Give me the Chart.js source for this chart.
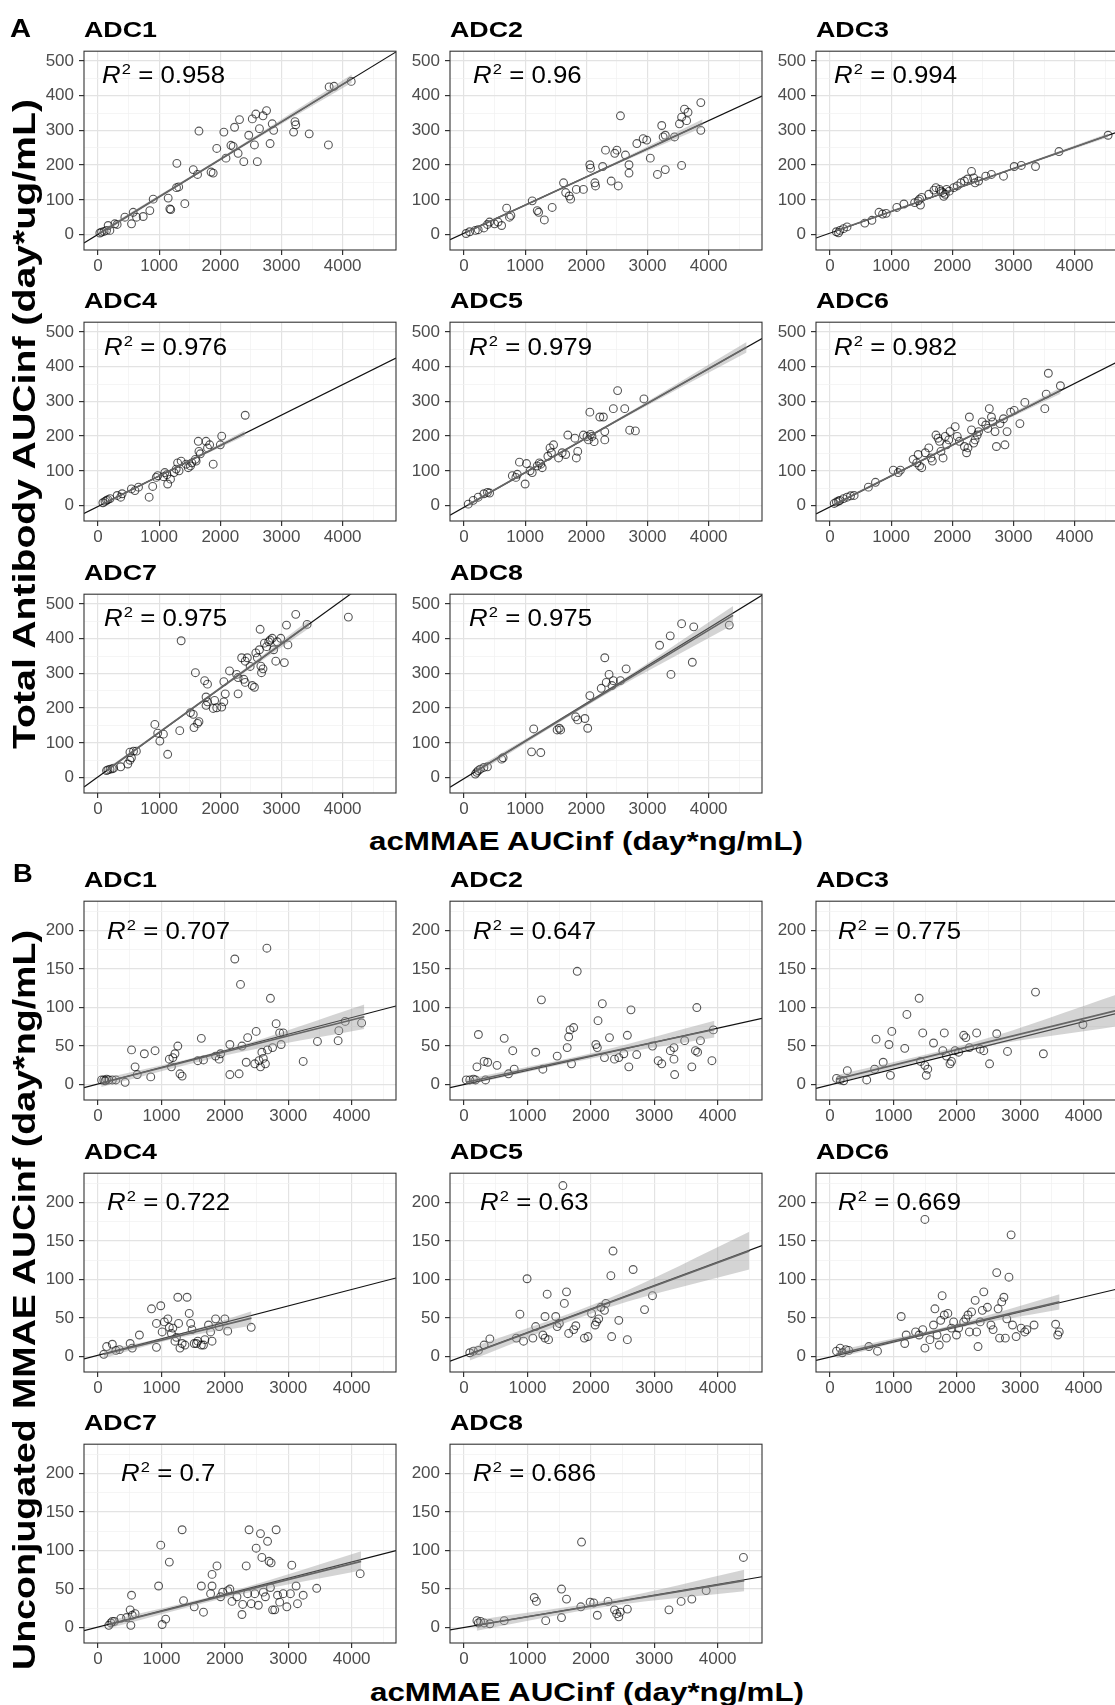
<!DOCTYPE html>
<html>
<head>
<meta charset="utf-8">
<script src="https://cdn.jsdelivr.net/npm/chart.js@4.4.1/dist/chart.umd.min.js"></script>
<style>
  html, body { margin:0; padding:0; background:#fff; }
  body { position:relative; width:1115px; height:1705px; overflow:hidden; }
  .box { position:absolute; }
  .txt { position:absolute; white-space:nowrap; line-height:1; color:#000;
         font-family:"Liberation Sans", Arial, sans-serif; left:0; top:0; }
  .txt sup { font-size:0.64em; vertical-align:baseline; position:relative; top:-0.58em; margin-left:1px; }
</style>
</head>
<body>
<script>
// ---------- data ----------
const panels = ['ADC1','ADC2','ADC3','ADC4','ADC5','ADC6','ADC7','ADC8'];
const r2A = ['0.958','0.96','0.994','0.976','0.979','0.982','0.975','0.975'];
const r2B = ['0.707','0.647','0.775','0.722','0.63','0.669','0.7','0.686'];

const xTicks = [0,500,1000,1500,2000,2500,3000,3500,4000,4500];
const xMajor = [0,1000,2000,3000,4000];
const yTicksA = [0,50,100,150,200,250,300,350,400,450,500];
const yMajorA = [0,100,200,300,400,500];
const yTicksB = [0,25,50,75,100,125,150,175,200,225];
const yMajorB = [0,50,100,150,200];

const xRangeA = [-228, 4872];
const yRangeA = [-44.5, 528];
const xRangeB = [-222, 4700];
const yRangeB = [-20, 238];

// panel A: acMMAE AUCinf (x) vs total antibody AUCinf (y)
const xA1 = [31,59,100,140,167,195,276,314,440,549,576,631,740,848,903,1148,1175,1190,1284,1320,1420,1558,1628,1651,1849,1884,1942,2058,2093,2174,2210,2233,2291,2314,2384,2465,2523,2558,2581,2605,2640,2698,2756,2814,2849,2872,3198,3221,3233,3453,3767,3779,3860,4140,1290];
const yA1 = [4.5,7,9,12,26,12,31,29,50,31,64,50,52,69,102,105,74,72,135,137,89,187,173,298,180,177,248,295,220,257,254,309,234,331,210,286,333,258,347,210,305,342,357,262,319,300,295,325,316,290,258,425,427,441,205];
const xA2 = [35,93,186,233,326,384,419,500,558,616,698,767,744,1116,1198,1221,1314,1442,1628,1663,1721,1744,1837,1953,2058,2070,2151,2140,2267,2314,2407,2465,2500,2523,2558,2640,2698,2698,2826,2930,2988,3046,3163,3233,3256,3291,3291,3442,3523,3558,3605,3640,3663,3558,3872,3872];
const yA2 = [3,8,12,14,19,29,36,31,36,26,76,55,50,97,69,64,42,78,149,121,111,102,130,130,201,191,140,149,196,243,154,234,243,140,342,229,201,177,262,276,272,220,173,314,281,286,187,281,319,338,361,328,352,199,380,300];
const xA3 = [105,140,163,221,279,570,686,802,860,919,1093,1209,1384,1442,1465,1500,1616,1733,1791,1814,1849,1884,1907,2023,2081,2140,2198,2314,2349,2372,2430,2547,2640,2837,3012,3128,3360,3744,4547,1860,1950,1700,1480,2250];
const yA3 = [8,5,12,17,22,33,41,64,59,61,78,88,92,97,102,107,116,135,130,125,121,116,130,135,140,149,154,182,163,149,154,168,173,168,196,199,196,239,286,110,125,128,85,160];
const xA4 = [81,116,140,163,198,314,372,395,547,663,605,837,895,953,977,1070,1128,1093,1140,1186,1244,1279,1302,1360,1326,1442,1477,1512,1535,1593,1605,1651,1674,1640,1767,1826,1791,1884,2000,2023,2407];
const yA4 = [8,12,15,17,20,29,24,34,48,53,43,24,55,81,86,83,89,95,62,76,95,105,123,128,100,119,109,114,123,133,128,156,149,185,185,175,166,119,175,200,260];
const xA5 = [70,151,233,326,384,419,791,849,872,907,1023,1000,1081,1116,1198,1256,1279,1233,1372,1430,1465,1407,1547,1605,1663,1698,1837,1860,1814,1953,2012,2035,2070,2058,2128,2093,2221,2279,2302,2302,2442,2512,2628,2709,2802,2942];
const yA5 = [4,15,24,34,38,36,86,81,90,125,121,62,100,95,114,119,109,123,142,152,175,166,137,152,147,203,137,156,194,203,199,189,205,269,184,199,255,255,189,213,279,331,279,217,215,307];
const xA6 = [70,105,140,163,221,279,337,395,628,744,1035,1116,1151,1360,1419,1442,1465,1500,1558,1616,1651,1674,1733,1767,1791,1814,1849,1884,1907,1942,1965,2047,2081,2116,2198,2233,2256,2279,2314,2349,2372,2407,2430,2488,2547,2581,2605,2640,2663,2698,2721,2779,2837,2860,2895,2953,3012,3105,3186,3512,3535,3570,3767];
const yA6 = [6,10,13,15,20,24,28,29,53,67,102,95,102,133,123,147,114,109,152,166,137,128,203,194,185,156,137,199,175,189,213,227,199,185,170,152,166,255,218,180,189,203,213,241,232,222,279,255,241,213,170,236,250,175,213,269,274,236,297,279,321,381,345];
const xA7 = [140,163,198,233,256,372,488,523,547,523,581,628,930,977,1012,1070,1140,1337,1360,1512,1558,1570,1628,1651,1593,1744,1791,1767,1791,1767,1884,1907,1942,2023,2058,2081,2058,2151,2267,2291,2291,2349,2407,2442,2384,2407,2488,2523,2558,2581,2605,2640,2663,2674,2651,2698,2721,2756,2791,2814,2849,2872,2907,2930,2988,3047,3082,3105,3233,3419,4093];
const yA7 = [20,22,24,25,27,31,39,50,57,73,76,76,153,128,105,125,67,135,394,187,182,144,156,161,302,279,269,232,218,208,199,222,201,203,218,241,276,307,297,288,241,345,335,345,283,274,320,265,260,359,345,368,321,302,427,313,387,377,391,396,401,368,335,391,401,331,439,382,470,441,462];
const xA8 = [186,209,233,267,326,384,616,640,1105,1140,1256,1523,1558,1581,1826,1860,1977,2023,2058,2244,2302,2326,2372,2419,2442,2558,2651,3198,3372,3384,3558,3756,3733,4337];
const yA8 = [10,15,20,24,29,31,53,57,74,140,72,137,142,137,175,166,170,142,236,257,345,274,297,265,279,279,313,381,408,297,443,434,332,439];

// panel B: acMMAE AUCinf (x) vs unconjugated MMAE AUCinf (y)
const xB1 = [56,90,112,135,169,225,281,427,528,584,618,730,831,899,1124,1157,1180,1213,1258,1292,1326,1573,1629,1663,1854,1910,1933,2079,2079,2157,2225,2247,2270,2337,2360,2494,2472,2539,2584,2607,2640,2674,2562,2663,2719,2753,2809,2865,2921,2888,3236,3461,3787,3798,3899,4157];
const yB1 = [6,6,5,7,6,6,6,3,45,23,13,40,10,44,33,23,35,40,50,14,11,31,60,32,37,33,40,13,52,163,14,130,50,29,61,69,27,31,42,34,27,45,23,177,112,48,79,67,67,52,30,56,57,70,82,80];
const xB2 = [34,90,147,181,339,203,226,316,373,520,633,701,768,791,1130,1220,1243,1469,1627,1650,1672,1729,1695,1785,2079,2102,2113,2181,2215,2294,2373,2441,2520,2576,2599,2633,2723,2972,3062,3119,3254,3311,3311,3322,3480,3593,3650,3684,3729,3672,3910,3932];
const yB2 = [6,6,7,6,6,23,65,30,29,25,60,14,44,20,42,110,20,37,48,62,71,74,27,147,52,48,83,105,35,61,33,35,40,64,23,97,39,50,31,27,44,48,33,13,57,23,44,42,57,100,31,71];
const xB3 = [102,159,215,272,578,703,725,838,929,952,974,1178,1212,1405,1428,1462,1496,1518,1541,1632,1802,1779,1835,1892,1915,1972,2028,2108,2142,2198,2312,2368,2425,2516,2629,2799,3241,3365,3989];
const yB3 = [8,6,5,18,6,20,59,29,52,12,69,47,91,112,30,67,25,12,20,54,67,44,37,27,30,44,42,64,61,48,67,46,44,27,66,43,120,40,78];
const xB4 = [90,135,225,281,337,506,539,652,843,989,921,921,1011,1045,1101,1124,1157,1180,1213,1236,1258,1270,1292,1326,1371,1404,1438,1461,1483,1517,1551,1573,1629,1663,1685,1742,1775,1798,1854,1910,2000,2045,2416];
const yB4 = [3,13,16,8,9,17,11,28,62,66,43,12,32,45,49,38,30,37,20,25,77,43,11,17,15,77,56,43,35,17,17,20,15,15,22,41,32,20,49,39,49,33,38];
const xB5 = [90,147,226,316,407,825,881,938,994,1085,1130,1243,1277,1311,1333,1277,1446,1469,1503,1559,1582,1616,1650,1729,1763,1898,1955,2011,2068,2090,2124,2158,2215,2237,2316,2328,2350,2441,2576,2667,2847,2972];
const yB5 = [5,7,8,15,23,24,55,20,101,24,39,28,52,81,22,24,52,39,43,222,69,84,30,35,40,24,26,56,41,45,49,64,60,69,105,26,137,47,22,113,61,79];
const xB6 = [102,159,193,249,294,612,748,1122,1178,1201,1349,1405,1462,1496,1496,1575,1632,1654,1688,1722,1745,1768,1802,1835,1858,1915,1949,1994,2028,2108,2142,2176,2198,2232,2289,2312,2334,2368,2402,2425,2482,2538,2572,2629,2651,2674,2708,2742,2765,2788,2822,2856,2878,2935,3014,3071,3105,3218,3558,3615,3592];
const yB6 = [7,11,5,9,8,13,7,52,17,28,32,28,35,11,178,22,41,62,28,15,47,79,54,24,56,37,45,28,37,45,49,54,32,58,73,32,13,45,60,84,64,41,35,109,62,24,71,77,24,49,103,158,41,26,37,32,35,41,42,32,28];
const xB7 = [169,202,225,258,360,449,506,528,517,539,584,955,989,1011,1067,1124,1326,1348,1517,1629,1663,1775,1798,1798,1876,1933,1966,2045,2079,2112,2191,2270,2281,2337,2360,2382,2416,2472,2494,2528,2562,2584,2607,2640,2674,2697,2719,2730,2753,2787,2809,2831,2865,2921,2978,3034,3056,3124,3146,3236,3449,4135];
const yB7 = [3,6,8,8,12,13,23,42,3,16,18,54,107,4,11,85,127,35,27,54,20,44,54,69,80,40,46,48,50,34,40,17,30,80,44,127,31,44,103,29,122,91,46,40,112,86,52,84,23,23,127,42,33,44,27,44,81,54,31,42,51,70];
const xB8 = [203,226,260,316,407,633,1107,1141,1288,1537,1537,1616,1842,1853,1989,2045,2102,2271,2373,2407,2441,2463,2576,3232,3424,3593,3819,4407];
const yB8 = [9,6,8,6,5,9,39,34,9,50,13,37,27,111,33,32,16,34,23,18,14,20,24,23,34,37,48,91];

// black regression line, y at the left / right x limits
const blackA = [[-24,526],[-15,399],[-10,306],[-23,425],[-28,481],[-24,429],[-27,623],[-28,525]];
const blackB = [[-4,102],[-4,86],[-5,96],[-3,102],[-6,144],[-5,91],[-4,100],[-3,66]];

// grey smooth line (x span and y at its ends)
const fitXA = [[20,4150],[30,3900],[100,4550],[80,2400],[70,4620],[70,3770],[140,3450],[180,4400]];
const fitYA = [[3,449],[6,320],[11,286],[4.5,208],[2,456],[3,331],[20.5,442],[16.5,467]];
const fitXB = [[50,4200],[30,3950],[100,4560],[90,2420],[90,4500],[100,3620],[170,4150],[200,4420]];
const fitYB = [[2,88],[3,71.5],[7,97],[3,50],[3,137],[3,71],[4,86],[3,61]];

// confidence band: x at start / middle / end, lower and upper edges
const bandXA = [[20,2085,4150],[30,1965,3900],[100,2325,4550],[80,1240,2400],[70,2345,4620],[70,1920,3770],[140,1795,3450],[180,2290,4400]];
const bandLoA = [[-3,222,437],[3,161,308],[9,147,280],[1.5,104,200],[-1,226,441],[0,165,322],[16,228,430],[8,236,440]];
const bandHiA = [[9,230,461],[9,165,332],[13,150,292],[7.5,108,216],[5,232,471],[6,169,340],[25,234,454],[25,248,494]];
const bandXB = [[50,2125,4200],[30,1990,3950],[100,2330,4560],[90,1255,2420],[90,2295,4500],[100,1860,3620],[170,2160,4150],[200,2310,4420]];
const bandLoB = [[-3,40,72],[-1,33.5,61],[2,47.5,76],[-2,24,40],[-5,64,113],[-2,34.5,61],[-1,41.5,74],[-4,28,47]];
const bandHiB = [[7,48,104],[7,40.5,83],[12,56.5,118],[8,29,59],[11,76,162],[8,39.5,81],[9,48.5,99],[10,36,75]];

// ---------- layout ----------
const colLeft = [84, 450, 816];
const rowTopA = [48, 319, 591];
const rowTopB = [898, 1170, 1441];
const plotW = 312, plotH = 202;
const padL = 62, padT = 12, padR = 10, padB = 32;
const r2OffA = [[18,35],[23,35],[18,35],[20,36],[19,36],[18,36],[20,35],[19,35]];
const r2OffB = [[23,41],[23,41],[22,41],[23,40],[30,40],[22,40],[37,40],[23,40]];

const xsA = [xA1,xA2,xA3,xA4,xA5,xA6,xA7,xA8], ysA = [yA1,yA2,yA3,yA4,yA5,yA6,yA7,yA8];
const xsB = [xB1,xB2,xB3,xB4,xB5,xB6,xB7,xB8], ysB = [yB1,yB2,yB3,yB4,yB5,yB6,yB7,yB8];

const frame = {
  id: 'frame',
  afterDatasetsDraw(ch) {
    const a = ch.chartArea, c = ch.ctx;
    c.save();
    c.strokeStyle = '#333';
    c.lineWidth = 1.1;
    c.strokeRect(a.left, a.top, a.right - a.left, a.bottom - a.top);
    c.restore();
  }
};

function pts(xs, ys) { return xs.map((x, i) => ({x: x, y: ys[i]})); }

function gridAxis(ticks, major, range, isX) {
  return {
    type: 'linear', min: range[0], max: range[1],
    afterBuildTicks: s => { s.ticks = ticks.map(v => ({value: v})); },
    afterFit: s => { if (isX) s.height = padB; else s.width = padL; },
    ticks: {
      autoSkip: false, maxRotation: 0, minRotation: 0,
      padding: isX ? 1 : 5,
      color: '#4d4d4d',
      font: {family: 'Liberation Sans', size: 17},
      callback: v => major.includes(v) ? String(v) : ''
    },
    grid: {
      color: c => major.includes(c.tick.value) ? '#e3e3e3' : '#f1f1f1',
      lineWidth: c => major.includes(c.tick.value) ? 1.2 : 0.7,
      tickLength: 5,
      tickColor: c => major.includes(c.tick.value) ? '#333' : 'rgba(0,0,0,0)'
    },
    border: {display: false}
  };
}

function makePanel(left, top, xs, ys, black, fx, fy, bx, blo, bhi, xr, yr, yTicks, yMajor) {
  const box = document.createElement('div');
  box.className = 'box';
  box.style.left = (left - padL) + 'px';
  box.style.top = (top - padT) + 'px';
  box.style.width = (padL + plotW + padR) + 'px';
  box.style.height = (padT + plotH + padB) + 'px';
  const cv = document.createElement('canvas');
  box.appendChild(cv);
  document.body.appendChild(box);

  new Chart(cv, {
    type: 'scatter',
    data: {
      datasets: [
        {type: 'line', data: pts(fx, fy), borderColor: '#666', borderWidth: 1.7, pointRadius: 0, fill: false},
        {type: 'line', data: pts(bx, bhi), borderWidth: 0, pointRadius: 0, fill: '+1',
         backgroundColor: 'rgba(153,153,153,0.42)', cubicInterpolationMode: 'monotone'},
        {type: 'line', data: pts(bx, blo), borderWidth: 0, pointRadius: 0, fill: false,
         cubicInterpolationMode: 'monotone'},
        {type: 'line', data: pts(xr, black), borderColor: '#111', borderWidth: 1.2, pointRadius: 0, fill: false},
        {type: 'scatter', data: pts(xs, ys), pointRadius: 3.9, pointBorderWidth: 1.1,
         pointBorderColor: 'rgba(0,0,0,0.66)', pointBackgroundColor: 'rgba(0,0,0,0)'}
      ]
    },
    options: {
      responsive: true, maintainAspectRatio: false, animation: false,
      layout: {padding: {top: padT, right: padR, left: 0, bottom: 0}},
      plugins: {legend: {display: false}, tooltip: {enabled: false}},
      scales: {
        x: gridAxis(xTicks, xMajor, xr, true),
        y: gridAxis(yTicks, yMajor, yr, false)
      }
    },
    plugins: [frame]
  });
}

// ---------- text (DOM) ----------
function addText(html, size, bold) {
  const el = document.createElement('div');
  el.className = 'txt';
  el.innerHTML = html;
  el.style.fontSize = size + 'px';
  el.style.fontWeight = bold ? 'bold' : 'normal';
  document.body.appendChild(el);
  return el;
}
function placeLeft(el, x, base, size, s) {
  el.style.transformOrigin = '0 0';
  el.style.transform = 'scaleX(' + s + ')';
  el.style.left = x + 'px';
  el.style.top = (base - 0.8465 * size) + 'px';
}
function placeCenter(el, cx, base, size, target) {
  const w = el.getBoundingClientRect().width;
  const s = target / w;
  el.style.transformOrigin = '0 0';
  el.style.transform = 'scaleX(' + s + ')';
  el.style.left = (cx - w * s / 2) + 'px';
  el.style.top = (base - 0.8465 * size) + 'px';
}
function placeRot(el, bx, cy, size, target) {
  const w = el.getBoundingClientRect().width;
  const s = target / w;
  el.style.transformOrigin = '0 0';
  el.style.transform = 'rotate(-90deg) scaleX(' + s + ')';
  el.style.left = (bx - 0.8465 * size) + 'px';
  el.style.top = (cy + w * s / 2) + 'px';
}

function buildGroup(rowTops, xs, ys, black, fitX, fitY, bandX, bandLo, bandHi, xr, yr, yTicks, yMajor) {
  for (let i = 0; i < 8; i++) {
    const left = colLeft[i % 3], top = rowTops[Math.floor(i / 3)];
    makePanel(left, top, xs[i], ys[i], black[i], fitX[i], fitY[i], bandX[i], bandLo[i], bandHi[i],
              xr, yr, yTicks, yMajor);
  }
}

buildGroup(rowTopA, xsA, ysA, blackA, fitXA, fitYA, bandXA, bandLoA, bandHiA, xRangeA, yRangeA, yTicksA, yMajorA);
buildGroup(rowTopB, xsB, ysB, blackB, fitXB, fitYB, bandXB, bandLoB, bandHiB, xRangeB, yRangeB, yTicksB, yMajorB);

// panel titles and R2 labels
const titleSize = 22, r2Size = 23;
const t0 = addText(panels[0], titleSize, true);
const titleScale = 73 / t0.getBoundingClientRect().width;
t0.remove();
const q0 = addText('<i>R</i><sup>2</sup> = ' + r2A[0], r2Size, false);
const r2Scale = 123 / q0.getBoundingClientRect().width;
q0.remove();

[[rowTopA, r2A, r2OffA], [rowTopB, r2B, r2OffB]].forEach(g => {
  for (let i = 0; i < 8; i++) {
    const left = colLeft[i % 3], top = g[0][Math.floor(i / 3)];
    placeLeft(addText(panels[i], titleSize, true), left, top - 10, titleSize, titleScale);
    placeLeft(addText('<i>R</i><sup>2</sup> = ' + g[1][i], r2Size, false),
              left + g[2][i][0], top + g[2][i][1], r2Size, r2Scale);
  }
});

// figure letters
placeLeft(addText('A', 26, true), 10, 37, 26, 1.12);
placeLeft(addText('B', 26, true), 13, 882, 26, 1.05);

// axis titles
const xTitle = 'acMMAE AUCinf (day*ng/mL)';
placeCenter(addText(xTitle, 25, true), 586, 850, 25, 434);
placeCenter(addText(xTitle, 25, true), 587, 1701, 25, 434);
placeRot(addText('Total Antibody AUCinf (day*ug/mL)', 31, true), 35, 424, 31, 650);
placeRot(addText('Unconjugated MMAE AUCinf (day*ng/mL)', 31, true), 35, 1300, 31, 740);
</script>
</body>
</html>
